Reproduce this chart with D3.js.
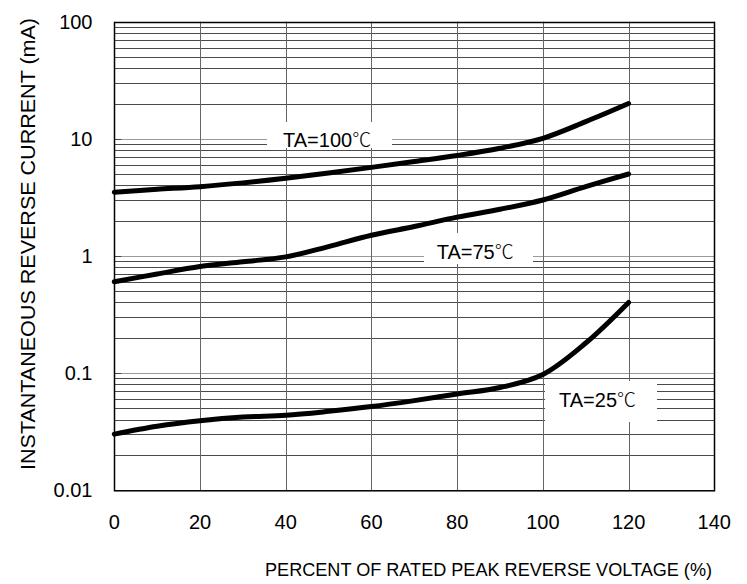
<!DOCTYPE html>
<html><head><meta charset="utf-8">
<script src="https://cdn.jsdelivr.net/npm/d3@7"></script>
<style>body{margin:0;background:#fff}svg{display:block}text{font-family:Arial,"Liberation Sans",sans-serif;fill:#000}</style>
</head><body>
<script>
const xValues = [0,10,20,30,40,50,60,70,80,90,100,110,120];
const series100 = [3.5,3.7,3.9,4.2,4.6,5.1,5.7,6.4,7.2,8.3,10.1,14,20];
const series75 = [0.6,0.7,0.81,0.89,0.98,1.2,1.5,1.78,2.14,2.5,3.0,3.9,5.0];
const series25 = [0.030,0.035,0.039,0.042,0.0435,0.047,0.0516,0.058,0.066,0.075,0.097,0.18,0.4];
const seriesNames = ["TA=100", "TA=75", "TA=25"];
const xTicks = [0,20,40,60,80,100,120,140];
const yTicks = [0.01,0.1,1,10,100];
const yTickLabels = ["0.01","0.1","1","10","100"];
const xTitle = "PERCENT OF RATED PEAK REVERSE VOLTAGE (%)";
const yTitle = "INSTANTANEOUS REVERSE CURRENT (mA)";

const W=747,H=584;
const L=114.3,R=714.3,T=21.7,B=490;
const svg=d3.select("body").append("svg").attr("width",W).attr("height",H);
const x=d3.scaleLinear().domain([0,140]).range([L,R]);
const y=d3.scaleLog().domain([0.01,100]).range([B,T]);
const snap=v=>Math.round(v)+0.5;

// grid
const minor=[];
[0.01,0.1,1,10].forEach(d=>{for(let k=1;k<=9;k++)minor.push(d*k);});
minor.push(100);
const g=svg.append("g");
g.selectAll("line.h").data(minor).join("line")
 .attr("x1",L).attr("x2",R).attr("y1",d=>snap(y(d))).attr("y2",d=>snap(y(d)))
 .attr("stroke",d=>yTicks.some(t=>Math.abs(t-d)<1e-9)?"#9a9a9a":"#4a4a4a").attr("stroke-width",1);
g.selectAll("line.tk").data(yTicks).join("line")
 .attr("x1",L).attr("x2",L+7).attr("y1",d=>snap(y(d))).attr("y2",d=>snap(y(d)))
 .attr("stroke","#444");
g.selectAll("line.v").data(xTicks).join("line")
 .attr("x1",d=>snap(x(d))).attr("x2",d=>snap(x(d))).attr("y1",T).attr("y2",B)
 .attr("stroke","#666").attr("stroke-width",1);

// label boxes (white, interrupt grid)
const labelBoxes=[[267,122,125,26],[424,233,109,31],[545,381,112,41]];
svg.selectAll("rect.lb").data(labelBoxes).join("rect")
 .attr("x",d=>d[0]).attr("y",d=>d[1]).attr("width",d=>d[2]).attr("height",d=>d[3]).attr("fill","#fff");

// frame
svg.append("rect").attr("x",snap(L)).attr("y",snap(T)).attr("width",R-L).attr("height",B-T)
 .attr("fill","none").attr("stroke","#000").attr("stroke-width",1.5);

// curves
const line=d3.line().x((d,i)=>x(xValues[i])).y(d=>y(d)).curve(d3.curveCatmullRom.alpha(0.5));
[series100,series75,series25].forEach(s=>{
 svg.append("path").attr("d",line(s)).attr("fill","none").attr("stroke","#000")
  .attr("stroke-width",5).attr("stroke-linecap","round").attr("stroke-linejoin","round");
});

// curve labels
const labelPos=[[283,146.7],[436.7,259.3],[559,407]];
labelPos.forEach((p,i)=>{
 const t=svg.append("text").attr("x",p[0]).attr("y",p[1]).attr("font-size",20);
 t.append("tspan").text(seriesNames[i]);
 t.append("tspan").text("℃").style("font-family","'Noto Sans CJK SC'").attr("font-weight",300).attr("font-size",19);
});

// axes tick labels
svg.selectAll("text.yt").data(yTicks).join("text")
 .attr("x",92.5).attr("y",d=>y(d)).attr("dy","0.36em").attr("text-anchor","end").attr("font-size",20)
 .text((d,i)=>yTickLabels[i]);
svg.selectAll("text.xt").data(xTicks).join("text")
 .attr("x",d=>x(d)).attr("y",528.5).attr("text-anchor","middle").attr("font-size",20)
 .text(d=>d);

svg.append("text").attr("x",712).attr("y",576).attr("text-anchor","end").attr("font-size",19)
 .attr("textLength",447).attr("lengthAdjust","spacingAndGlyphs").text(xTitle);
svg.append("text").attr("transform","translate(35,244) rotate(-90)").attr("text-anchor","middle")
 .attr("font-size",20).attr("textLength",452).attr("lengthAdjust","spacingAndGlyphs").text(yTitle);
</script>
</body></html>
